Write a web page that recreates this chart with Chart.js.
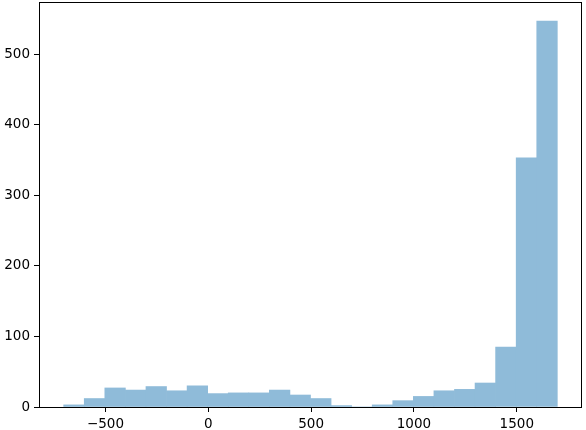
<!DOCTYPE html>
<html>
<head>
<meta charset="utf-8">
<script src="https://cdn.jsdelivr.net/npm/chart.js@4/dist/chart.umd.min.js"></script>
<style>
  html, body { margin: 0; padding: 0; background: #fff; }
  canvas { display: block; }
</style>
</head>
<body>
<canvas id="myChart" width="586" height="430"></canvas>
<script>
// histogram bins (left edge of the first bin, width of each bin)
const binStart = -703
const binWidth = 100
const counts = [3, 12, 27, 24, 29, 23, 30, 19, 20, 20, 24, 17, 12, 2, 0, 3, 9, 15, 23, 25, 34, 85, 353, 547]
const xTicks = [-500, 0, 500, 1000, 1500]
const yTicks = [0, 100, 200, 300, 400, 500]

// bin centres -> points for the bar dataset
const points = counts.map(function (c, i) {
    return { x: binStart + binWidth * (i + 0.5), y: c }
})

// matplotlib style frame round the plot area
const framePlugin = {
    id: 'frame',
    afterDraw(chart) {
        const a = chart.chartArea
        const c = chart.ctx
        c.save()
        c.strokeStyle = '#000'
        c.lineWidth = 1
        c.strokeRect(Math.round(a.left) + 0.5, Math.round(a.top) + 0.5,
            Math.round(a.right - a.left) - 1, Math.round(a.bottom - a.top))
        c.restore()
    },
}

const tickFont = { family: 'DejaVu Sans', size: 13.5 }
const fmt = v => (v < 0 ? '\u2212' + Math.abs(v) : String(v))
const span = binWidth * counts.length

const ctx = document.getElementById('myChart').getContext('2d')
const myChart = new Chart(ctx, {
    type: 'bar',
    data: {
        datasets: [
            {
                data: points,
                // C0 at alpha 0.5 over white
                backgroundColor: '#8fbbd9',
                borderWidth: 0,
                barPercentage: 1,
                categoryPercentage: 1,
                grouped: false,
            },
        ],
    },
    options: {
        responsive: false,
        animation: false,
        layout: { padding: { left: 0, top: 2, right: 4, bottom: 0 } },
        plugins: { legend: { display: false }, tooltip: { enabled: false } },
        scales: {
            x: {
                type: 'linear',
                offset: false,
                min: binStart - 0.05 * span,
                max: binStart + span + 0.05 * span,
                grid: { drawOnChartArea: false, offset: false, tickLength: 5, color: '#000' },
                border: { display: false },
                ticks: { color: '#000', font: tickFont, padding: 4, maxRotation: 0, callback: fmt },
                afterBuildTicks: s => { s.ticks = xTicks.map(v => ({ value: v })) },
                afterFit: s => { s.height = 23; s.paddingLeft = 0; s.paddingRight = 0 },
            },
            y: {
                min: 0,
                max: 574,
                grid: { drawOnChartArea: false, tickLength: 5, color: '#000' },
                border: { display: false },
                ticks: { color: '#000', font: tickFont, padding: 4, callback: fmt },
                afterBuildTicks: s => { s.ticks = yTicks.map(v => ({ value: v })) },
                afterFit: s => { s.width = 39; s.paddingTop = 0; s.paddingBottom = 0 },
            },
        },
    },
    plugins: [framePlugin],
})
</script>
</body>
</html>
